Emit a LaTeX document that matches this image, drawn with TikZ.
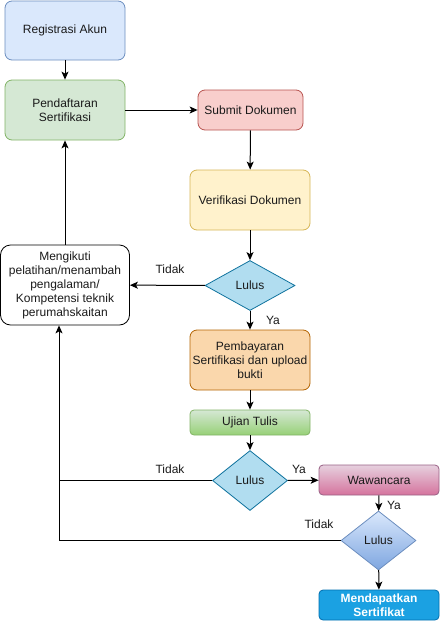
\documentclass[tikz,border=0pt]{standalone}
\usepackage{fontspec}
\setmainfont{Liberation Sans}
\usetikzlibrary{shapes.geometric,arrows.meta,calc}
\definecolor{bF}{HTML}{DAE8FC}\definecolor{bD}{HTML}{6C8EBF}
\definecolor{gF}{HTML}{D5E8D4}\definecolor{gD}{HTML}{82B366}
\definecolor{rF}{HTML}{F8CECC}\definecolor{rD}{HTML}{B85450}
\definecolor{yF}{HTML}{FFF2CC}\definecolor{yD}{HTML}{D6B656}
\definecolor{oF}{HTML}{FAD7AC}\definecolor{oD}{HTML}{B46504}
\definecolor{dF}{HTML}{B1DDF0}\definecolor{dD}{HTML}{10739E}
\definecolor{gG}{HTML}{97D077}
\definecolor{pT}{HTML}{E6D0DE}\definecolor{pB}{HTML}{D5739D}\definecolor{pD}{HTML}{996185}
\definecolor{bG}{HTML}{7EA6E0}
\definecolor{mF}{HTML}{1BA1E2}\definecolor{mD}{HTML}{006EAF}
\definecolor{txt}{HTML}{1A1A1A}
\begin{document}
\begin{tikzpicture}[x=1pt,y=-1pt,
  font=\fontsize{12}{14}\selectfont, text=txt,
  box/.style={rectangle,rounded corners=7pt,draw,line width=0.8pt,inner sep=2pt,align=center},
  dia/.style={diamond,draw,line width=0.8pt,inner sep=0pt},
  arr/.style={line width=1pt,-{Stealth[length=8pt,width=7pt,inset=2pt]}},
  lin/.style={line width=1pt},
  lab/.style={inner sep=0pt}]
\useasboundingbox (0,0) rectangle (441,621);
\node[box,fill=bF,draw=bD,minimum width=120pt,minimum height=59pt] (reg) at (65,30.5) {Registrasi Akun};
\node[box,fill=gF,draw=gD,minimum width=120pt,minimum height=60pt] (pend) at (65,110) {Pendaftaran\\Sertifikasi};
\node[box,fill=rF,draw=rD,minimum width=105pt,minimum height=40pt] (sub) at (250.5,110) {Submit Dokumen};
\node[box,fill=yF,draw=yD,minimum width=120pt,minimum height=60pt] (ver) at (250,200) {Verifikasi Dokumen};
\node[box,fill=white,draw=black,rounded corners=10pt,minimum width=129pt,minimum height=80pt] (meng) at (65,285) {Mengikuti\\pelatihan/menambah\\pengalaman/\\Kompetensi teknik\\perumahskaitan};
\node[dia,fill=dF,draw=dD,minimum width=90pt,minimum height=50pt] (l1) at (250,285.5) {Lulus};
\node[box,fill=oF,draw=oD,minimum width=120pt,minimum height=60pt] (pem) at (250,360) {Pembayaran\\Sertifikasi dan upload\\bukti};
\node[box,top color=gF,bottom color=gG,draw=gD,rounded corners=4pt,minimum width=120pt,minimum height=25pt] (uji) at (250,422.5) {Ujian Tulis};
\node[dia,fill=dF,draw=dD,minimum width=75pt,minimum height=60pt] (l2) at (250,480.5) {Lulus};
\node[box,top color=pT,bottom color=pB,draw=pD,rounded corners=4pt,minimum width=120pt,minimum height=30pt] (waw) at (379,480) {Wawancara};
\node[dia,top color=bF,bottom color=bG,draw=bD,minimum width=75pt,minimum height=59pt] (l3) at (378.5,540.5) {Lulus};
\node[box,fill=mF,draw=mD,rounded corners=4pt,minimum width=120pt,minimum height=30pt,text=white,font=\fontsize{12}{14}\selectfont\bfseries] (mend) at (379,605) {Mendapatkan\\Sertifikat};
\coordinate (c1) at (59,480.5);
\coordinate (c2) at (59,540.5);
\draw[arr] (reg) -- (pend);
\draw[arr] (pend) -- (sub);
\draw[arr] (sub) -- (ver);
\draw[arr] (ver) -- (l1);
\draw[arr] (l1) -- (meng);
\draw[arr] (l1) -- (pem);
\draw[arr] (pem) -- (uji);
\draw[arr] (uji) -- (l2);
\draw[arr] (l2) -- (waw);
\draw[arr] (waw) -- (l3);
\draw[arr] (l3) -- (mend);
\draw[arr] (meng) -- (pend);
\draw[arr] (l2.west) -- (c1) -- (c1 |- meng.south);
\draw[lin] (l3.west) -- (c2) -- (c1);
\node[lab] (t1) at (170,269) {Tidak};
\node[lab] (y1) at (273,320) {Ya};
\node[lab] (t2) at (170,469) {Tidak};
\node[lab] (y2) at (299,469) {Ya};
\node[lab] (y3) at (394,505) {Ya};
\node[lab] (t3) at (319,524) {Tidak};
\end{tikzpicture}
\end{document}
